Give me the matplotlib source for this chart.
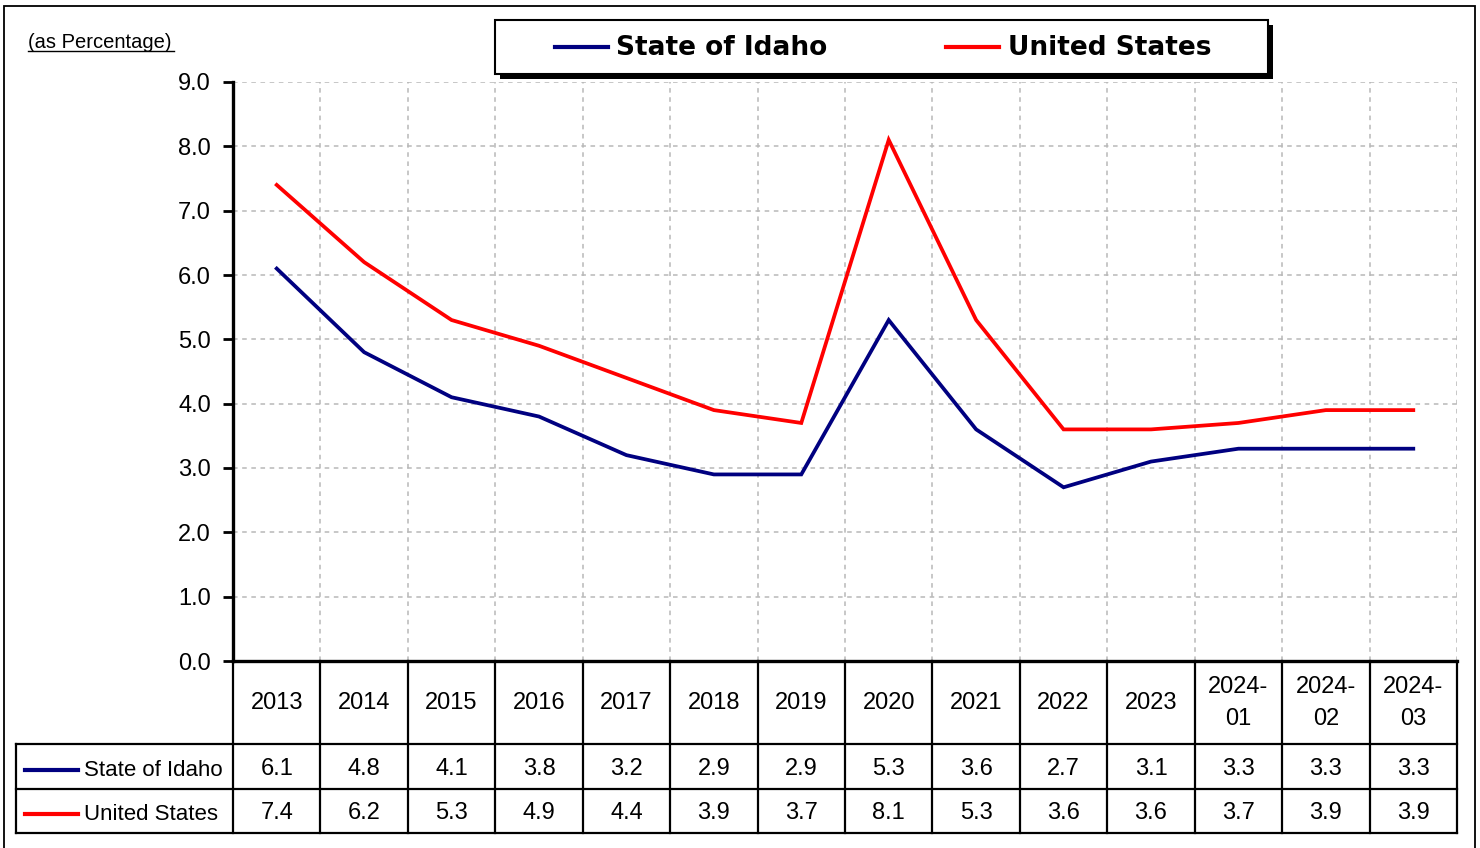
import matplotlib
matplotlib.use("Agg")
import matplotlib.pyplot as plt
from matplotlib.lines import Line2D
from matplotlib.patches import Rectangle

# unemployment rate, annual averages then monthly for 2024
periods = ["2013", "2014", "2015", "2016", "2017", "2018", "2019", "2020",
           "2021", "2022", "2023", "2024-\n01", "2024-\n02", "2024-\n03"]
idaho = [6.1, 4.8, 4.1, 3.8, 3.2, 2.9, 2.9, 5.3, 3.6, 2.7, 3.1, 3.3, 3.3, 3.3]
united_states = [7.4, 6.2, 5.3, 4.9, 4.4, 3.9, 3.7, 8.1, 5.3, 3.6, 3.6, 3.7, 3.9, 3.9]
series_names = ["State of Idaho", "United States"]
series_colors = ["#000080", "#FF0000"]
y_ticks = [0, 1, 2, 3, 4, 5, 6, 7, 8, 9]

W, H = 1480, 848
NUM_FONT = "Liberation Sans"
LABEL_FONT = "Liberation Sans"


def fx(px):
    return px / W


def fy(py):
    return 1 - py / H


def draw_chart(fig, n):
    ax = fig.add_axes([fx(233), fy(661), fx(1457) - fx(233), fy(82) - fy(661)])
    xs = list(range(n))
    for vals, name, color in zip([idaho, united_states], series_names, series_colors):
        ax.plot(xs, vals, color=color, lw=2.7, label=name, solid_joinstyle="miter", zorder=3)

    ax.set_xlim(-0.5, n - 0.5)
    ax.set_ylim(0, 9)
    ax.set_yticks(y_ticks)
    ax.set_yticklabels([f"{v:.1f}" for v in y_ticks], fontfamily=NUM_FONT, fontsize=17)
    ax.set_xticks([i - 0.5 for i in range(n + 1)])
    ax.tick_params(axis="x", length=0, labelbottom=False)
    ax.tick_params(axis="y", length=7, width=2, pad=9, direction="out")
    ax.grid(True, ls=(0, (3, 3)), color="#B8B8B8", lw=1.1)
    ax.set_axisbelow(True)
    for side in ("top", "right"):
        ax.spines[side].set_visible(False)
    for side in ("left", "bottom"):
        ax.spines[side].set_linewidth(2.4)
        ax.spines[side].set_zorder(4)
    return ax


def draw_table(fig, n):
    cw = (1457 - 233) / n
    left = -0.5 - (233 - 16) / cw

    def tx(px):
        return -0.5 + (px - 233) / cw

    tab = fig.add_axes([fx(16), fy(833), fx(1457) - fx(16), fy(661) - fy(833)])
    tab.axis("off")
    tab.set_xlim(left, n - 0.5)
    tab.set_ylim(833, 661)

    kw = dict(color="black", lw=1.6, clip_on=False)
    # column borders
    for i in range(n + 1):
        tab.plot([i - 0.5, i - 0.5], [661, 833], **kw)
    tab.plot([left, left], [744, 833], **kw)
    for yy in (744, 789, 833):
        tab.plot([left, n - 0.5], [yy, yy], **kw)

    for i, p in enumerate(periods):
        tab.text(i, 703, p, ha="center", va="center", fontfamily=NUM_FONT,
                 fontsize=17, linespacing=1.55)

    rows = [(769, idaho), (813, united_states)]
    for (yy, vals), name, color in zip(rows, series_names, series_colors):
        tab.plot([tx(25), tx(78)], [yy + 1, yy + 1], color=color, lw=3, clip_on=False)
        tab.text(tx(84), yy + 1, name, ha="left", va="center",
                 fontfamily=LABEL_FONT, fontsize=16)
        for i, v in enumerate(vals):
            tab.text(i, yy, f"{v:.1f}", ha="center", va="center",
                     fontfamily=NUM_FONT, fontsize=17)


def draw_legend(fig):
    tf = fig.transFigure
    fig.add_artist(Rectangle((fx(500), fy(79)), fx(1273) - fx(500), fy(25) - fy(79),
                             facecolor="black", edgecolor="none", transform=tf))
    fig.add_artist(Rectangle((fx(495), fy(74)), fx(1268) - fx(495), fy(20) - fy(74),
                             facecolor="white", edgecolor="black", lw=1.5, transform=tf))
    keys = [(555, 608, 616), (946, 999, 1008)]
    for (k0, k1, t0), name, color in zip(keys, series_names, series_colors):
        fig.add_artist(Line2D([fx(k0), fx(k1)], [fy(47), fy(47)], color=color,
                              lw=3, transform=tf))
        fig.text(fx(t0), fy(48), name, ha="left", va="center", fontfamily="DejaVu Sans",
                 fontweight="bold", fontsize=19)


def main():
    n = len(periods)
    fig = plt.figure(figsize=(W / 100, H / 100), dpi=100)

    # outer border
    fig.add_artist(Rectangle((fx(4), fy(852)), fx(1475) - fx(4), fy(6) - fy(852),
                             fill=False, edgecolor="black", lw=1.3,
                             transform=fig.transFigure))

    fig.text(fx(28), fy(48), "(as Percentage)", ha="left", va="baseline",
             fontfamily=LABEL_FONT, fontsize=14.5)
    fig.add_artist(Line2D([fx(28), fx(174)], [fy(51), fy(51)], color="black", lw=1,
                          transform=fig.transFigure))

    draw_chart(fig, n)
    draw_table(fig, n)
    draw_legend(fig)

    fig.savefig("out.png", dpi=100)
    plt.close(fig)


if __name__ == "__main__":
    main()
